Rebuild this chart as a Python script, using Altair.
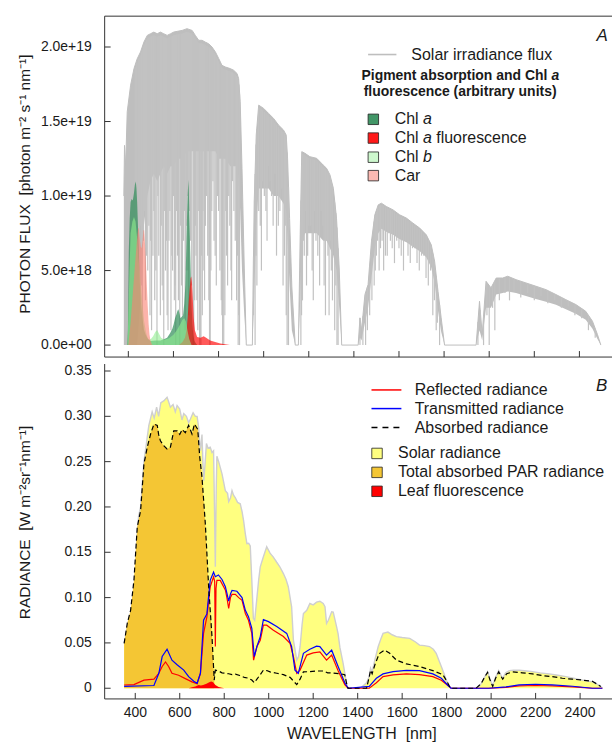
import altair as alt
import numpy as np
import pandas as pd

FONT = "Liberation Sans"
INK = "#1a1a1a"
AXC = "#333333"
NB = "\u00a0"

# ---------------- Panel A : photon flux ----------------
# solar irradiance photon flux, in units of 1e18 photon m-2 s-1 nm-1
sol_w = [380, 383, 388, 395, 410, 425, 439, 454, 469, 484, 498, 513, 528, 542, 557, 572, 587, 601, 616, 638,
         660, 683, 697, 712, 727, 741, 756, 771, 786, 801, 815, 830, 852, 867, 882, 889, 896, 904, 914, 923,
         950, 958, 967, 978, 1000, 1022, 1044, 1066, 1088, 1100, 1106, 1115, 1125, 1140, 1154, 1162, 1169,
         1183, 1205, 1235, 1264, 1279, 1294, 1309, 1323, 1335, 1346, 1419, 1427, 1434, 1449, 1463, 1478, 1493,
         1508, 1522, 1544, 1574, 1603, 1633, 1662, 1692, 1721, 1743, 1758, 1773, 1787, 1802, 1942, 1957, 1969,
         1986, 2008, 2031, 2060, 2082, 2119, 2163, 2207, 2252, 2296, 2340, 2384, 2428, 2458, 2480, 2495]
sol_hi = [10.0, 13.4, 12.0, 15.65, 17.44, 18.55, 19.2, 19.67, 20.33, 20.78, 20.89, 21.0, 20.89, 21.0, 20.89,
          20.78, 20.89, 21.0, 21.05, 21.11, 21.23, 21.11, 20.78, 20.45, 20.45, 20.33, 20.22, 20.0, 19.67, 19.22,
          18.77, 18.66, 18.55, 18.44, 18.22, 17.88, 16.32, 11.86, 5.17, 0, 0, 9.6, 14.09, 16.1, 15.88, 15.54,
          15.21, 14.76, 14.43, 14.09, 12.53, 8.5, 3.9, 0, 0, 7.4, 12.98, 12.87, 12.64, 12.53, 12.08, 11.86, 11.42,
          10.52, 8.52, 5.17, 0, 0, 1.83, 1.0, 3.39, 4.06, 6.96, 8.74, 9.41, 9.52, 9.30, 9.07, 8.74, 8.52, 8.18,
          7.85, 7.40, 6.73, 5.62, 3.61, 1.83, 0, 0, 2.94, 0.7, 4.28, 3.84, 4.50, 4.50, 4.62, 4.39, 4.17, 3.95,
          3.72, 3.39, 3.05, 2.72, 2.27, 1.6, 0.71, 0]
sol_lo = [0, 0, 0, 0, 0, 0, 0, 3, 8, 10, 11, 11.5, 11, 11.5, 12, 11.5, 12, 12, 12.5, 12.5,
          13, 13, 13, 13, 13, 13, 13, 13, 13, 12.5, 12.5, 12.5, 12, 12, 12, 11, 9, 5, 2, 0,
          0, 3, 8, 10.5, 10.5, 10.5, 10, 10, 9.5, 9, 7, 4, 1, 0, 0, 3, 7,
          7.5, 7.5, 7.5, 7, 7, 6.5, 6, 5, 2.5, 0, 0, 0.5, 0.3, 1.5, 2.5, 4.5, 6.5,
          7.5, 7.8, 7.6, 7.4, 7.1, 6.9, 6.6, 6.3, 5.9, 5.2, 4.2, 2.3, 0.9, 0, 0, 1.0, 0.3,
          2.5, 2.5, 3.4, 3.5, 3.6, 3.5, 3.3, 3.1, 2.9, 2.7, 2.4, 2.1, 1.7, 1.1, 0.4, 0]
# deep absorption lines: (wavelength, lowest flux x1e18)
sol_dips = [(431, 2), (438, 5), (445, 3), (448, 6), (453, 8), (458, 4), (462, 1), (467, 7), (471, 9), (476, 3),
            (481, 6), (486, 5), (491, 8), (496, 2), (499, 7), (503, 1), (509, 6), (513, 9), (517, 3), (522, 5),
            (527, 0), (531, 10), (535, 6), (542, 2), (546, 8), (550, 4), (554, 3), (557, 0), (561, 9), (565, 5),
            (569, 7), (572, 2), (576, 1), (580, 7), (584, 9), (589, 1), (593, 6), (596, 5), (600, 10), (604, 3),
            (607, 4), (610, 0), (614, 9), (618, 6), (622, 3), (628, 0), (632, 8), (636, 4), (640, 2), (645, 7),
            (649, 9), (652, 1), (655, 5), (658, 8), (662, 10), (665, 5), (668, 2), (672, 9), (676, 7), (681, 4),
            (687, 0), (690, 0), (694, 3), (697, 8), (700, 6), (704, 3), (708, 1), (712, 9), (716, 0), (719, 0),
            (722, 0), (725, 6), (728, 2), (731, 9), (735, 5), (738, 3), (742, 8), (746, 10), (752, 6), (757, 3),
            (760, 0), (763, 0), (766, 5), (770, 9), (775, 11), (780, 7), (785, 6), (790, 4), (795, 10), (800, 9),
            (806, 5), (812, 3), (815, 2), (818, 0), (823, 0), (828, 2), (832, 9), (835, 6), (840, 4), (845, 10),
            (850, 8), (855, 5), (858, 3), (862, 11), (868, 9), (874, 7), (880, 3), (884, 6), (887, 0), (890, 2),
            (893, 0), (955, 2), (962, 0), (966, 6), (970, 4), (978, 9), (985, 8), (990, 5), (995, 11), (1003, 10),
            (1010, 9), (1015, 7), (1020, 12), (1028, 11), (1035, 10), (1042, 8), (1050, 11.5), (1057, 6),
            (1065, 8), (1072, 9), (1080, 10.5), (1086, 4), (1092, 6), (1096, 8), (1100, 2), (1104, 0),
            (1110, 0), (1165, 0), (1168, 2), (1172, 3), (1176, 7), (1180, 6), (1186, 9), (1190, 4), (1195, 6),
            (1200, 8), (1208, 8), (1215, 5), (1220, 3), (1225, 9), (1232, 7), (1240, 6), (1248, 4), (1255, 9),
            (1262, 8), (1268, 4), (1274, 2), (1280, 7), (1285, 6), (1290, 2), (1296, 7), (1300, 5), (1305, 3),
            (1315, 1), (1320, 4), (1325, 0), (1330, 0), (1427, 0), (1440, 0), (1452, 0), (1460, 1), (1470, 2),
            (1480, 3), (1490, 4), (1495, 5), (1500, 6), (1505, 7), (1512, 5), (1518, 6.5), (1525, 7),
            (1532, 5), (1540, 6), (1548, 6), (1555, 7.5), (1562, 7), (1570, 6.5), (1580, 5.5), (1590, 7),
            (1600, 6.5), (1610, 6), (1620, 5), (1630, 7), (1640, 6), (1650, 5.5), (1660, 6.5), (1670, 6.5),
            (1680, 5.5), (1690, 5), (1700, 6), (1710, 6), (1720, 4.5), (1730, 4), (1740, 5), (1750, 2),
            (1757, 3), (1765, 1), (1770, 1.5), (1780, 0), (1950, 0), (1960, 1), (1975, 0), (1990, 2), (2000, 0),
            (2015, 2.5), (2025, 1), (2045, 3), (2070, 3.5), (2090, 3), (2110, 3.6), (2140, 3.2), (2170, 3.5),
            (2200, 3), (2230, 3.3), (2260, 2.8), (2290, 3), (2320, 2.5), (2350, 2.6), (2380, 2), (2410, 1.8),
            (2440, 1), (2470, 0.5)]

# pigment absorption / fluorescence (arbitrary units, drawn on the same axis, x1e18)
chla = [(395, 0), (398, 1), (402, 6.3), (406, 8.5), (410, 9.6), (415, 9.8), (420, 9.7), (425, 10.2),
        (429, 10.75), (433, 10.97), (436, 10.5), (439, 9.6), (444, 7.4), (451, 4.1), (456, 2.8), (462, 1.83),
        (470, 1.0), (476, 0.73), (487, 0.4), (498, 0.27), (520, 0.3), (543, 0.3), (560, 0.4), (572, 0.5),
        (585, 0.8), (595, 1.1), (601, 1.4), (607, 1.8), (613, 2.05), (618, 2.3), (622, 2.4), (627, 2.1),
        (631, 1.8), (637, 1.9), (643, 2.05), (648, 2.8), (653, 4.06), (657, 6.5), (660, 8.5), (663, 10.0),
        (666, 11.08), (668, 10.5), (671, 8.5), (675, 6.0), (678, 4.06), (681, 2.5), (684, 1.4), (688, 0.7),
        (693, 0.27), (700, 0.1), (705, 0)]
chla_fl = [(625, 0), (640, 0.2), (651, 0.5), (658, 1.0), (663, 1.8), (668, 3.0), (672, 3.8), (676, 4.5),
           (679, 4.6), (682, 4.2), (686, 3.0), (690, 1.8), (695, 1.0), (705, 0.55), (720, 0.5), (734, 0.6),
           (745, 0.5), (763, 0.3), (785, 0.2), (808, 0.1), (830, 0.05), (850, 0)]
chlb = [(396, 0), (400, 2), (405, 5), (410, 7.5), (418, 8.3), (425, 8.6), (432, 8.3), (440, 7.0), (447, 5.5),
        (455, 4.2), (462, 2.8), (470, 1.6), (478, 0.9), (485, 0.5), (492, 0.35), (500, 0.4), (510, 0.6),
        (520, 0.9), (528, 1.0), (535, 0.8), (545, 0.5), (560, 0.35), (580, 0.45), (600, 0.7), (615, 1.0),
        (630, 1.4), (640, 1.7), (648, 1.8), (655, 1.6), (662, 1.0), (670, 0.4), (680, 0)]
car = [(400, 0), (410, 1.5), (420, 3.5), (430, 5.5), (438, 7.0), (443, 7.8), (446, 7.85), (450, 7.2),
       (455, 6.6), (459, 6.5), (463, 7.0), (467, 7.7), (470, 7.7), (474, 6.8), (478, 5.5), (482, 4.0),
       (486, 2.6), (490, 1.4), (494, 0.7), (498, 0.3), (505, 0)]

# ---------------- Panel B : radiance (W m-2 sr-1 nm-1) ----------------
solar_rad = [(350, 0.0495), (371, 0.075), (380, 0.08), (394, 0.09), (400, 0.12), (409, 0.17), (415, 0.19),
             (424, 0.2), (439, 0.25), (450, 0.27), (461, 0.29), (476, 0.305), (485, 0.298), (496, 0.31),
             (505, 0.30), (515, 0.315), (528, 0.317), (543, 0.321), (550, 0.316), (558, 0.31), (570, 0.313),
             (580, 0.305), (588, 0.312), (600, 0.308), (610, 0.296), (618, 0.303), (630, 0.30), (640, 0.293),
             (648, 0.297), (660, 0.304), (670, 0.30), (678, 0.30), (685, 0.288), (690, 0.27), (693, 0.262),
             (700, 0.28), (704, 0.25), (708, 0.229), (713, 0.245), (720, 0.27), (727, 0.265), (737, 0.266),
             (745, 0.26), (752, 0.262), (756, 0.2), (760, 0.134), (764, 0.22), (767, 0.256), (775, 0.25),
             (790, 0.2365), (805, 0.218), (815, 0.215), (820, 0.206), (828, 0.21), (835, 0.218), (842, 0.213),
             (850, 0.21), (860, 0.205), (872, 0.2035), (880, 0.195), (887, 0.185), (895, 0.17), (902, 0.1595),
             (910, 0.16), (917, 0.157), (924, 0.119), (931, 0.077), (937, 0.075), (947, 0.1), (955, 0.12),
             (962, 0.134), (976, 0.145), (991, 0.156), (1006, 0.149), (1020, 0.145), (1036, 0.139),
             (1050, 0.134), (1066, 0.1265), (1078, 0.12), (1088, 0.112), (1103, 0.0898), (1111, 0.053),
             (1120, 0.04), (1126, 0.031), (1134, 0.035), (1141, 0.0458), (1150, 0.07), (1156, 0.0825),
             (1171, 0.086), (1185, 0.0935), (1200, 0.092), (1215, 0.095), (1230, 0.096), (1245, 0.0935),
             (1253, 0.09), (1260, 0.0715), (1268, 0.075), (1283, 0.0843), (1290, 0.084), (1305, 0.068),
             (1312, 0.06), (1320, 0.045), (1335, 0.027), (1345, 0.012), (1355, 0.0), (1400, 0.0),
             (1417, 0.001), (1440, 0.006), (1452, 0.0128), (1458, 0.022), (1465, 0.018), (1477, 0.031),
             (1492, 0.0458), (1505, 0.055), (1514, 0.0605), (1536, 0.062), (1555, 0.059), (1574, 0.057),
             (1600, 0.056), (1634, 0.055), (1660, 0.051), (1678, 0.0476), (1700, 0.047), (1723, 0.046),
             (1740, 0.043), (1753, 0.0385), (1765, 0.031), (1776, 0.024), (1790, 0.015), (1798, 0.009),
             (1813, 0.002), (1820, 0.0), (1932, 0.0), (1945, 0.002), (1955, 0.005), (1970, 0.012),
             (1984, 0.0183), (1995, 0.01), (2007, 0.003), (2020, 0.012), (2034, 0.0194), (2045, 0.014),
             (2052, 0.011), (2065, 0.017), (2082, 0.0194), (2100, 0.0198), (2126, 0.0198), (2160, 0.019),
             (2186, 0.0183), (2220, 0.017), (2261, 0.0158), (2300, 0.0143), (2336, 0.0128), (2370, 0.011),
             (2410, 0.009), (2455, 0.007), (2480, 0.004), (2493, 0.002), (2500, 0.0)]
absorbed = [(350, 0.0495), (364, 0.0715), (379, 0.086), (394, 0.119), (409, 0.178), (424, 0.196),
            (439, 0.2475), (454, 0.266), (469, 0.2805), (484, 0.2915), (499, 0.29), (505, 0.28), (513, 0.273),
            (528, 0.2676), (543, 0.264), (558, 0.266), (573, 0.284), (588, 0.284), (600, 0.28), (611, 0.2855),
            (625, 0.282), (640, 0.29), (655, 0.2805), (666, 0.2915), (681, 0.2855), (690, 0.2548),
            (700, 0.2328), (715, 0.1815), (730, 0.1118), (745, 0.0568), (755, 0.009), (760, 0.02),
            (775, 0.019), (790, 0.017), (805, 0.0165), (820, 0.016), (835, 0.015), (850, 0.0155),
            (870, 0.014), (890, 0.012), (910, 0.011), (924, 0.009), (935, 0.006), (947, 0.01), (962, 0.015),
            (976, 0.02), (991, 0.0195), (1006, 0.018), (1036, 0.0165), (1066, 0.015), (1096, 0.012),
            (1111, 0.008), (1126, 0.004), (1141, 0.01), (1156, 0.018), (1185, 0.0183), (1215, 0.019),
            (1245, 0.019), (1265, 0.017), (1290, 0.0168), (1320, 0.016), (1342, 0.015), (1352, 0.003),
            (1357, 0.0), (1440, 0.0), (1452, 0.0128), (1458, 0.02), (1465, 0.016), (1477, 0.0256),
            (1490, 0.034), (1499, 0.0385), (1521, 0.042), (1544, 0.0385), (1574, 0.031), (1619, 0.0268),
            (1678, 0.024), (1738, 0.0194), (1783, 0.015), (1800, 0.008), (1813, 0.002), (1820, 0.0),
            (1932, 0.0), (1955, 0.005), (1970, 0.012), (1984, 0.0175), (1995, 0.009), (2007, 0.002),
            (2020, 0.011), (2034, 0.018), (2045, 0.013), (2052, 0.01), (2070, 0.016), (2097, 0.018),
            (2140, 0.017), (2186, 0.0158), (2230, 0.014), (2275, 0.0128), (2320, 0.011), (2366, 0.01),
            (2410, 0.009), (2455, 0.0077), (2480, 0.004), (2493, 0.002)]
reflected = [(350, 0.0036), (394, 0.004), (439, 0.009), (484, 0.01), (506, 0.0165), (521, 0.024), (536, 0.029),
             (550, 0.024), (565, 0.0165), (595, 0.0143), (625, 0.0106), (655, 0.007), (678, 0.005),
             (693, 0.0165), (707, 0.0605), (722, 0.0788), (737, 0.1118), (752, 0.1228), (757, 0.118),
             (760, 0.046), (763, 0.11), (767, 0.119), (782, 0.119), (805, 0.1085), (812, 0.1), (820, 0.088),
             (828, 0.1), (835, 0.1035), (850, 0.1035), (865, 0.1), (880, 0.097), (895, 0.0825), (909, 0.075),
             (924, 0.0605), (932, 0.031), (947, 0.046), (962, 0.053), (976, 0.0696), (991, 0.0696),
             (1021, 0.064), (1066, 0.057), (1096, 0.0495), (1111, 0.0348), (1126, 0.0165), (1141, 0.02),
             (1171, 0.0366), (1200, 0.039), (1230, 0.040), (1260, 0.031), (1283, 0.0366), (1312, 0.0194),
             (1342, 0.004), (1357, 0.0), (1452, 0.0), (1484, 0.006), (1514, 0.0128), (1559, 0.0147),
             (1619, 0.0158), (1678, 0.015), (1738, 0.0128), (1776, 0.0088), (1806, 0.003), (1820, 0.0),
             (1990, 0.0), (2067, 0.001), (2126, 0.0025), (2200, 0.003), (2275, 0.0025), (2366, 0.0015),
             (2455, 0.0), (2500, 0.0)]
transmitted = [(350, 0.002), (484, 0.003), (506, 0.0165), (521, 0.035), (543, 0.043), (565, 0.031), (588, 0.026),
               (618, 0.02), (640, 0.0128), (663, 0.0077), (678, 0.0055), (693, 0.0165), (707, 0.075),
               (722, 0.082), (737, 0.119), (752, 0.128), (760, 0.123), (774, 0.125), (790, 0.12), (805, 0.112),
               (812, 0.105), (820, 0.096), (828, 0.104), (835, 0.108), (857, 0.107), (880, 0.1), (895, 0.086),
               (909, 0.079), (924, 0.066), (935, 0.035), (947, 0.046), (962, 0.057), (976, 0.0757),
               (999, 0.0735), (1036, 0.068), (1081, 0.0605), (1103, 0.046), (1118, 0.02), (1133, 0.0165),
               (1156, 0.0385), (1185, 0.043), (1215, 0.0465), (1230, 0.046), (1260, 0.0366), (1283, 0.042),
               (1312, 0.024), (1342, 0.006), (1357, 0.0), (1452, 0.002), (1484, 0.011), (1514, 0.0158),
               (1559, 0.0183), (1619, 0.0198), (1678, 0.0194), (1738, 0.0158), (1776, 0.011), (1806, 0.003),
               (1820, 0.0), (1990, 0.0), (2067, 0.0015), (2126, 0.0037), (2200, 0.0044), (2275, 0.0037),
               (2366, 0.0022), (2455, 0.0), (2500, 0.0)]
leaf_fl = [(640, 0.0), (655, 0.001), (670, 0.002), (685, 0.0035), (695, 0.003), (705, 0.0035), (720, 0.005),
           (735, 0.007), (742, 0.0073), (750, 0.0065), (760, 0.0035), (775, 0.0015), (790, 0.0005), (800, 0.0)]
par_end = 757  # absorbed PAR region ends where the absorbed curve drops

ticks_x = [400, 600, 800, 1000, 1200, 1400, 1600, 1800, 2000, 2200, 2400]
ticks_x_lab = ["400", "600", "800", "1000", "1200", "1400", "1600", "1800", "2000", "2200", "2400"]
ticks_ya = [0, 5e18, 1e19, 1.5e19, 2e19]
ticks_ya_lab = ["0.0e+00", "5.0e+18", "1.0e+19", "1.5e+19", "2.0e+19"]
ticks_yb = [0, 0.05, 0.10, 0.15, 0.20, 0.25, 0.30, 0.35]
ticks_yb_lab = ["0", "0.05", "0.10", "0.15", "0.20", "0.25", "0.30", "0.35"]

# ---------------- build tables ----------------
E18 = 1e18
n = min(len(sol_w), len(sol_hi), len(sol_lo))
solar_df = pd.DataFrame({"w": sol_w[:n], "hi": np.array(sol_hi[:n]) * E18, "lo": np.array(sol_lo[:n]) * E18})
dip_df = pd.DataFrame(sol_dips, columns=["w", "lo"])
dip_df["lo"] = dip_df["lo"] * E18
dip_df["hi"] = np.interp(dip_df["w"], solar_df["w"], solar_df["hi"]) * 0.99


def pairs(p, scale=1.0):
    d = pd.DataFrame(p, columns=["w", "v"])
    d["v"] = d["v"] * scale
    d["z"] = 0.0
    return d


W, HA, HB = 509, 342, 336
xsA = alt.Scale(domain=[295, 2544.5], nice=False, zero=False)
ysA = alt.Scale(domain=[-8.03e17, 2.207e19], nice=False, zero=False)
xsB = alt.Scale(domain=[262.4, 2543.4], nice=False, zero=False)
ysB = alt.Scale(domain=[-0.0118, 0.3577], nice=False, zero=False)

one = pd.DataFrame({"k": [0]})


def txt(s, x, y, size=16, style="normal", weight="normal", align="left", angle=0, baseline="middle"):
    kw = dict(align=align, baseline=baseline, fontSize=size, font=FONT, fontStyle=style,
              fontWeight=weight, color=INK)
    if angle:
        kw["angle"] = angle
    return alt.Chart(pd.DataFrame({"t": [s]})).mark_text(**kw).encode(
        x=alt.value(x), y=alt.value(y), text="t:N")


def sq(x1, yc, fill, op, s=10.5):
    return alt.Chart(one).mark_rect(fill=fill, fillOpacity=op, stroke="#222", strokeWidth=0.8).encode(
        x=alt.value(x1), x2=alt.value(x1 + s), y=alt.value(yc - s / 2), y2=alt.value(yc + s / 2))


def seg(x1, x2, y, color, width=1.5, dash=None):
    kw = dict(color=color, strokeWidth=width)
    if dash:
        kw["strokeDash"] = dash
    return alt.Chart(one).mark_rule(**kw).encode(x=alt.value(x1), x2=alt.value(x2), y=alt.value(y))


def vseg(x, y1, y2, color=AXC, width=1):
    return alt.Chart(one).mark_rule(color=color, strokeWidth=width).encode(
        x=alt.value(x), y=alt.value(y1), y2=alt.value(y2))


def area(df, color, op, xs, ys):
    return alt.Chart(df).mark_area(color=color, opacity=op, interpolate="linear").encode(
        x=alt.X("w:Q", scale=xs, axis=None), y=alt.Y("v:Q", scale=ys, axis=None), y2="z:Q")


def line(df, color, xs, ys, width=1.3, dash=None):
    kw = dict(color=color, strokeWidth=width, interpolate="linear")
    if dash:
        kw["strokeDash"] = dash
    return alt.Chart(df).mark_line(**kw).encode(
        x=alt.X("w:Q", scale=xs, axis=None), y=alt.Y("v:Q", scale=ys, axis=None))


def ylabels(vals, labs, ys):
    d = pd.DataFrame({"t": vals, "lab": labs})
    return alt.Chart(d).mark_text(align="right", baseline="middle", fontSize=14, font=FONT, color=INK).encode(
        y=alt.Y("t:Q", scale=ys, axis=None), x=alt.value(-13), text="lab:N")


def xlabels(vals, labs, xs, y):
    d = pd.DataFrame({"t": vals, "lab": labs})
    return alt.Chart(d).mark_text(align="center", baseline="middle", fontSize=14, font=FONT, color=INK).encode(
        x=alt.X("t:Q", scale=xs, axis=None), y=alt.value(y), text="lab:N")


def xticks(xs, h):
    return alt.Chart(pd.DataFrame({"t": ticks_x})).mark_rule(color=AXC, strokeWidth=1).encode(
        x=alt.X("t:Q", scale=xs, axis=None), y=alt.value(h - 6), y2=alt.value(h))


def yticks(vals, ys):
    return alt.Chart(pd.DataFrame({"t": vals})).mark_rule(color=AXC, strokeWidth=1).encode(
        y=alt.Y("t:Q", scale=ys, axis=None), x=alt.value(0), x2=alt.value(6))


# ---------------- Panel A ----------------
GRAY = "#bebebe"
a_base = alt.Chart(solar_df).mark_area(color=GRAY, interpolate="linear").encode(
    x=alt.X("w:Q", scale=xsA, axis=None), y=alt.Y("lo:Q", scale=ysA, axis=None), y2="hi:Q")
a_env = alt.Chart(solar_df).mark_line(color=GRAY, strokeWidth=1).encode(
    x=alt.X("w:Q", scale=xsA, axis=None), y=alt.Y("hi:Q", scale=ysA, axis=None))
a_dips = alt.Chart(dip_df).mark_rule(color="#c2c2c2", strokeWidth=1.2).encode(
    x=alt.X("w:Q", scale=xsA, axis=None), y=alt.Y("lo:Q", scale=ysA, axis=None), y2="hi:Q")
a_pad = alt.Chart(one).mark_rule(color="#ffffff", strokeWidth=1).encode(
    x=alt.value(-103.5), x2=alt.value(-102.5), y=alt.value(-13.5))

panelA = alt.layer(
    a_base, a_env, a_dips,
    area(pairs(chla, E18), "#2E8B57", 0.7, xsA, ysA),
    area(pairs(chla_fl, E18), "#FF0000", 0.65, xsA, ysA),
    area(pairs(chlb, E18), "#90EE90", 0.6, xsA, ysA),
    area(pairs(car, E18), "#FA8072", 0.6, xsA, ysA),
    xticks(xsA, HA), yticks(ticks_ya, ysA),
    seg(0, W, 0, AXC, 1), seg(0, W, HA, AXC, 1), vseg(0, 0, HA),
    ylabels(ticks_ya, ticks_ya_lab, ysA),
    txt("PHOTON FLUX" + NB + " [photon m\u207b\u00b2 s\u207b\u00b9 nm\u207b\u00b9]", -80, 168.5, size=15.5,
        align="center", angle=270),
    a_pad,
    txt("A", 499, 20, size=17, style="italic", align="center"),
    seg(264.3, 292.7, 38.5, GRAY, 1.6),
    txt("Solar irradiance flux", 307.7, 38.5),
    txt("Pigment absorption and Chl ", 257.7, 60, size=14, weight="bold"),
    txt("a", 448.3, 60, size=14, weight="bold", style="italic"),
    txt("fluorescence (arbitrary units)", 356.6, 76, size=14, weight="bold", align="center"),
    sq(264.3, 103.5, "#2E8B57", 0.9), txt("Chl", 291, 103.5), txt("a", 319.4, 103.5, style="italic"),
    sq(264.3, 122.3, "#FF0000", 0.9), txt("Chl", 291, 122.3), txt("a", 319.4, 122.3, style="italic"),
    txt("fluorescence", 332.7, 122.3),
    sq(264.3, 141.5, "#90EE90", 0.45), txt("Chl", 291, 141.5), txt("b", 319.4, 141.5, style="italic"),
    sq(264.3, 160, "#FA8072", 0.55), txt("Car", 291, 160),
).properties(width=W, height=HA)

# ---------------- Panel B ----------------
sol_df = pairs(solar_rad)
abs_df = pairs(absorbed)
par_df = abs_df[abs_df["w"] <= par_end].copy()

b_pad = alt.Chart(one).mark_rule(color="#ffffff", strokeWidth=1).encode(
    x=alt.value(0), x2=alt.value(1), y=alt.value(HB + 42.5))

panelB = alt.layer(
    area(sol_df, "#FFFF80", 1.0, xsB, ysB),
    line(sol_df, "#cfcfcf", xsB, ysB, width=1.4),
    area(par_df, "#F4C634", 1.0, xsB, ysB),
    area(pairs(leaf_fl), "#FF0000", 1.0, xsB, ysB),
    line(pairs(reflected), "#FF0000", xsB, ysB, width=1.2),
    line(pairs(transmitted), "#0000FF", xsB, ysB, width=1.2),
    line(abs_df, "#000000", xsB, ysB, width=1.2, dash=[5, 3]),
    xticks(xsB, HB), yticks(ticks_yb, ysB),
    seg(0, W, HB, AXC, 1), vseg(0, 0, HB),
    ylabels(ticks_yb, ticks_yb_lab, ysB),
    xlabels(ticks_x, ticks_x_lab, xsB, HB + 14),
    txt("RADIANCE" + NB + " [W m\u207b\u00b2sr\u207b\u00b9nm\u207b\u00b9]", -80, 159, size=15.5,
        align="center", angle=270),
    txt("WAVELENGTH" + NB + " [nm]", 258, HB + 40, size=16, align="center", baseline="alphabetic"),
    b_pad,
    txt("B", 498.5, 22, size=17, style="italic", align="center"),
    seg(267.7, 297.7, 26, "#FF0000", 1.5), txt("Reflected radiance", 311, 26),
    seg(267.7, 297.7, 44.7, "#0000FF", 1.5), txt("Transmitted radiance", 311, 44.7),
    seg(267.7, 297.7, 63.7, "#000000", 1.6, dash=[6, 5]), txt("Absorbed radiance", 311, 63.7),
    sq(268, 89.7, "#FFFF80", 1.0), txt("Solar radiance", 294.3, 89.7),
    sq(268, 108.7, "#F4C634", 1.0), txt("Total absorbed PAR radiance", 294.3, 108.7),
    sq(268, 127.7, "#FF0000", 1.0), txt("Leaf fluorescence", 294.3, 127.7),
).properties(width=W, height=HB)

chart = alt.vconcat(panelA, panelB, spacing=7, bounds="flush").properties(
    padding={"left": 0, "top": 0, "right": 0, "bottom": 0}
).configure(font=FONT).configure_view(stroke="transparent")

chart.save("out.html", embed_options={"renderer": "svg", "actions": False})
